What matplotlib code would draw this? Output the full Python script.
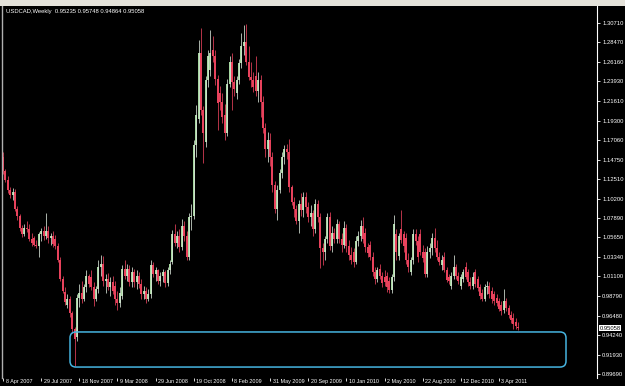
import numpy as np
import matplotlib
matplotlib.use("Agg")
import matplotlib.pyplot as plt
import matplotlib.transforms as mtransforms
from matplotlib.patches import FancyBboxPatch, Rectangle

plt.rcParams["font.family"] = ["Liberation Sans", "DejaVu Sans"]

SYMBOL = "USDCAD,Weekly"

# weekly OHLC, first bar = week of 8 Apr 2007
opens = [
    1.150, 1.134, 1.124, 1.112, 1.106, 1.110, 1.090, 1.081, 1.067, 1.060,
    1.068, 1.066, 1.055, 1.056, 1.048, 1.046, 1.061, 1.064, 1.058, 1.064,
    1.056, 1.058, 1.055, 1.046, 1.030, 1.008, 0.993, 0.978, 0.985, 0.968,
    0.950, 0.940, 0.986, 0.992, 0.985, 0.998, 1.012, 1.010, 0.998, 0.985,
    0.996, 1.022, 1.025, 1.005, 1.008, 0.998, 1.004, 1.000, 0.985, 0.980,
    0.988, 1.020, 1.012, 1.020, 1.004, 1.016, 1.004, 1.012, 1.002, 0.990,
    0.994, 0.984, 0.990, 1.024, 1.014, 1.018, 1.006, 1.012, 1.016, 1.003,
    1.018, 1.028, 1.060, 1.050, 1.058, 1.045, 1.070, 1.058, 1.034, 1.080,
    1.082, 1.165, 1.195, 1.272, 1.205, 1.168, 1.240, 1.252, 1.275, 1.268,
    1.242, 1.225, 1.215, 1.200, 1.178, 1.236, 1.262, 1.238, 1.225, 1.240,
    1.260, 1.280, 1.285, 1.262, 1.244, 1.240, 1.245, 1.228, 1.240, 1.215,
    1.184, 1.160, 1.170, 1.150, 1.118, 1.090, 1.112, 1.132, 1.150, 1.160,
    1.156, 1.115, 1.098, 1.090, 1.076, 1.095, 1.088, 1.104, 1.092, 1.080,
    1.085, 1.066, 1.095, 1.080, 1.044, 1.040, 1.055, 1.080, 1.046, 1.062,
    1.055, 1.072, 1.055, 1.048, 1.068, 1.046, 1.036, 1.040, 1.028, 1.052,
    1.058, 1.070, 1.062, 1.045, 1.048, 1.034, 1.016, 1.008, 1.020, 1.012,
    1.010, 1.012, 1.006, 0.995, 1.010, 1.060, 1.035, 1.066, 1.060, 1.056,
    1.030, 1.016, 1.030, 1.060, 1.052, 1.060, 1.040, 1.040, 1.014, 1.040,
    1.044, 1.056, 1.044, 1.034, 1.024, 1.034, 1.019, 1.010, 1.000, 1.012,
    1.022, 1.012, 1.000, 1.008, 1.022, 1.016, 1.004, 1.000, 1.016, 1.008,
    0.998, 0.992, 0.985, 0.998, 1.000, 0.994, 0.990, 0.986, 0.982, 0.978,
    0.972, 0.982, 0.974, 0.966, 0.962, 0.958, 0.95235,
]
highs = [
    1.156, 1.137, 1.128, 1.116, 1.114, 1.113, 1.093, 1.084, 1.071, 1.072,
    1.076, 1.072, 1.062, 1.058, 1.053, 1.063, 1.068, 1.070, 1.085, 1.070,
    1.062, 1.064, 1.059, 1.050, 1.034, 1.012, 0.998, 0.990, 0.988, 0.971,
    0.952, 0.990, 1.002, 1.005, 1.002, 1.018, 1.014, 1.018, 1.004, 1.000,
    1.030, 1.036, 1.035, 1.014, 1.015, 1.010, 1.012, 1.005, 0.994, 0.999,
    1.024, 1.030, 1.026, 1.024, 1.022, 1.020, 1.018, 1.016, 1.008, 1.000,
    0.998, 0.996, 1.030, 1.028, 1.022, 1.020, 1.016, 1.020, 1.018, 1.022,
    1.030, 1.065, 1.072, 1.064, 1.066, 1.078, 1.076, 1.064, 1.085, 1.095,
    1.170, 1.211, 1.287, 1.301, 1.210, 1.245, 1.275, 1.299, 1.292, 1.275,
    1.246, 1.234, 1.225, 1.212, 1.242, 1.268, 1.272, 1.245, 1.245, 1.265,
    1.296, 1.305, 1.306, 1.280, 1.262, 1.250, 1.268, 1.250, 1.246, 1.222,
    1.190, 1.180, 1.178, 1.156, 1.122, 1.118, 1.136, 1.156, 1.164, 1.166,
    1.172, 1.118, 1.104, 1.094, 1.100, 1.108, 1.110, 1.110, 1.098, 1.094,
    1.088, 1.102, 1.100, 1.085, 1.050, 1.058, 1.085, 1.086, 1.070, 1.068,
    1.078, 1.076, 1.062, 1.076, 1.072, 1.054, 1.045, 1.044, 1.058, 1.064,
    1.077, 1.080, 1.068, 1.050, 1.052, 1.040, 1.022, 1.022, 1.026, 1.016,
    1.018, 1.016, 1.010, 1.014, 1.083, 1.066, 1.062, 1.088, 1.064, 1.062,
    1.038, 1.034, 1.066, 1.066, 1.058, 1.066, 1.048, 1.044, 1.046, 1.050,
    1.062, 1.068, 1.054, 1.040, 1.036, 1.040, 1.022, 1.014, 1.016, 1.036,
    1.026, 1.016, 1.014, 1.020, 1.028, 1.020, 1.010, 1.016, 1.020, 1.012,
    1.002, 0.996, 1.002, 1.006, 1.004, 0.998, 0.994, 0.990, 0.986, 0.982,
    0.996, 0.986, 0.978, 0.970, 0.968, 0.962, 0.95748,
]
lows = [
    1.131, 1.121, 1.109, 1.103, 1.100, 1.087, 1.077, 1.064, 1.057, 1.058,
    1.063, 1.052, 1.046, 1.046, 1.044, 1.034, 1.052, 1.054, 1.055, 1.050,
    1.048, 1.045, 1.043, 1.028, 1.005, 0.991, 0.978, 0.974, 0.964, 0.945,
    0.906, 0.935, 0.975, 0.980, 0.982, 0.993, 0.998, 0.995, 0.976, 0.982,
    0.992, 1.012, 1.000, 0.992, 0.995, 0.988, 0.990, 0.978, 0.972, 0.975,
    0.985, 1.008, 1.005, 1.000, 0.999, 0.998, 0.996, 0.997, 0.985, 0.984,
    0.980, 0.982, 0.986, 1.010, 1.005, 1.002, 1.000, 1.004, 0.998, 1.000,
    1.014, 1.025, 1.046, 1.044, 1.040, 1.042, 1.052, 1.030, 1.030, 1.065,
    1.078, 1.150, 1.190, 1.200, 1.143, 1.162, 1.232, 1.245, 1.262, 1.235,
    1.182, 1.205, 1.190, 1.170, 1.175, 1.232, 1.205, 1.222, 1.218, 1.236,
    1.255, 1.270, 1.258, 1.240, 1.232, 1.226, 1.222, 1.215, 1.197, 1.178,
    1.150, 1.145, 1.140, 1.110, 1.085, 1.077, 1.108, 1.126, 1.142, 1.148,
    1.110, 1.094, 1.080, 1.072, 1.062, 1.082, 1.080, 1.085, 1.075, 1.070,
    1.058, 1.062, 1.075, 1.021, 1.024, 1.030, 1.050, 1.042, 1.040, 1.050,
    1.050, 1.050, 1.040, 1.044, 1.040, 1.030, 1.025, 1.022, 1.026, 1.046,
    1.052, 1.050, 1.040, 1.034, 1.030, 1.012, 1.002, 1.004, 1.008, 0.998,
    1.000, 0.993, 0.992, 0.992, 1.006, 1.030, 1.030, 1.050, 1.040, 1.026,
    1.016, 1.013, 1.026, 1.048, 1.028, 1.036, 1.028, 1.010, 1.010, 1.032,
    1.036, 1.040, 1.030, 1.024, 1.018, 1.016, 1.004, 1.002, 0.996, 1.008,
    1.008, 1.002, 0.996, 1.004, 1.008, 1.000, 0.996, 0.996, 0.998, 0.994,
    0.984, 0.982, 0.982, 0.990, 0.986, 0.980, 0.978, 0.976, 0.970, 0.966,
    0.968, 0.970, 0.962, 0.957, 0.950, 0.950, 0.94864,
]
closes = [
    1.134, 1.124, 1.112, 1.106, 1.110, 1.090, 1.081, 1.067, 1.060, 1.068,
    1.066, 1.055, 1.050, 1.048, 1.046, 1.061, 1.064, 1.058, 1.064, 1.056,
    1.058, 1.049, 1.046, 1.030, 1.008, 0.994, 0.981, 0.985, 0.968, 0.950,
    0.938, 0.986, 0.992, 0.985, 0.998, 1.012, 1.002, 0.998, 0.985, 0.996,
    1.022, 1.025, 1.005, 1.008, 0.998, 1.004, 0.994, 0.985, 0.980, 0.992,
    1.020, 1.012, 1.020, 1.004, 1.016, 1.004, 1.012, 1.002, 0.990, 0.994,
    0.984, 0.990, 1.024, 1.014, 1.018, 1.006, 1.012, 1.016, 1.003, 1.018,
    1.026, 1.060, 1.050, 1.058, 1.045, 1.070, 1.058, 1.034, 1.080, 1.082,
    1.165, 1.200, 1.272, 1.205, 1.178, 1.240, 1.268, 1.272, 1.268, 1.242,
    1.214, 1.215, 1.197, 1.178, 1.236, 1.262, 1.238, 1.230, 1.240, 1.260,
    1.280, 1.285, 1.262, 1.244, 1.240, 1.232, 1.228, 1.240, 1.215, 1.184,
    1.160, 1.170, 1.150, 1.118, 1.090, 1.112, 1.132, 1.150, 1.160, 1.156,
    1.115, 1.098, 1.090, 1.076, 1.095, 1.088, 1.104, 1.092, 1.080, 1.085,
    1.066, 1.095, 1.080, 1.044, 1.040, 1.055, 1.080, 1.046, 1.062, 1.055,
    1.072, 1.055, 1.048, 1.068, 1.046, 1.036, 1.030, 1.028, 1.052, 1.058,
    1.070, 1.055, 1.045, 1.038, 1.034, 1.016, 1.008, 1.018, 1.012, 1.003,
    1.004, 0.998, 0.995, 1.010, 1.072, 1.040, 1.058, 1.054, 1.046, 1.030,
    1.022, 1.030, 1.060, 1.052, 1.034, 1.040, 1.032, 1.014, 1.040, 1.044,
    1.056, 1.044, 1.034, 1.028, 1.030, 1.019, 1.007, 1.006, 1.012, 1.022,
    1.012, 1.006, 1.010, 1.016, 1.010, 1.004, 1.000, 1.010, 1.002, 0.997,
    0.988, 0.985, 0.998, 1.000, 0.990, 0.984, 0.982, 0.980, 0.973, 0.970,
    0.982, 0.974, 0.966, 0.960, 0.955, 0.953, 0.95058,
]

date_labels = [
    "8 Apr 2007", "29 Jul 2007", "18 Nov 2007", "9 Mar 2008", "29 Jun 2008",
    "19 Oct 2008", "8 Feb 2009", "31 May 2009", "20 Sep 2009", "10 Jan 2010",
    "2 May 2010", "22 Aug 2010", "12 Dec 2010", "3 Apr 2011",
]
price_ticks = [
    1.30710, 1.28470, 1.26160, 1.23930, 1.21610, 1.19300, 1.17060, 1.14750,
    1.12510, 1.10200, 1.07890, 1.05650, 1.03340, 1.01100, 0.98790, 0.96480,
    0.94240, 0.91930, 0.89690,
]

BG = "black"
UP_BODY = "#a6d6a0"
UP_WICK = "#d8e4d8"
DOWN = "#e8425c"
BOX_BLUE = "#46b4e0"
TEXT = "white"
FS = 4.2
LABEL_STEP = 16  # weeks between date labels


def main():
    o = np.array(opens)
    h = np.array(highs)
    lo = np.array(lows)
    c = np.array(closes)
    idx = np.arange(len(c))
    up = c >= o

    fig = plt.figure(figsize=(6.25, 3.86), dpi=100, facecolor=BG)
    ax = fig.add_axes([2 / 625, 8 / 386, 595 / 625, 372 / 386])
    ax.set_facecolor(BG)

    # toolbar strip at the very top
    fig.patches.append(Rectangle((0, 380 / 386), 1, 6 / 386, transform=fig.transFigure,
                                 facecolor="#e4e2da", edgecolor="none"))

    ax.vlines(idx[up], lo[up], h[up], color=UP_WICK, linewidth=0.55)
    ax.vlines(idx[~up], lo[~up], h[~up], color=DOWN, linewidth=0.55)
    body_lo = np.minimum(o, c)
    body_h = np.maximum(np.abs(c - o), 0.0012)
    ax.bar(idx[up], body_h[up], bottom=body_lo[up], width=0.85, color=UP_BODY, linewidth=0)
    ax.bar(idx[~up], body_h[~up], bottom=body_lo[~up], width=0.85, color=DOWN, linewidth=0)

    ax.set_xlim(-0.42, 249.1)
    ax.set_ylim(0.8922, 1.3270)

    # highlighted support zone
    box = FancyBboxPatch((28.1, 0.905), 208.0, 0.041,
                         boxstyle="round,pad=0,rounding_size=2.5",
                         mutation_aspect=0.00278, facecolor="none",
                         edgecolor=BOX_BLUE, linewidth=1.1, zorder=5)
    ax.add_patch(box)

    for side in ("top", "bottom"):
        ax.spines[side].set_visible(False)
    ax.spines["left"].set_color("#b0b0b0")
    ax.spines["left"].set_linewidth(1.0)
    ax.spines["right"].set_color(TEXT)
    ax.spines["right"].set_linewidth(0.8)

    ax.yaxis.tick_right()
    ax.set_yticks(price_ticks, [f"{v:.5f}" for v in price_ticks])
    ax.tick_params(axis="y", colors=TEXT, length=2.5, width=0.6, pad=1.2, labelsize=FS)

    xt = np.arange(len(date_labels)) * LABEL_STEP
    ax.set_xticks(xt, date_labels)
    ax.tick_params(axis="x", colors=TEXT, length=2.5, width=0.6, pad=-2.0, labelsize=3.9)
    shift = mtransforms.ScaledTranslation(2.5 / 100, 0, fig.dpi_scale_trans)
    for lab in ax.get_xticklabels():
        lab.set_horizontalalignment("left")
        lab.set_transform(lab.get_transform() + shift)

    # current price marker
    trans = mtransforms.blended_transform_factory(ax.transAxes, ax.transData)
    ax.text(1.004, c[-1], f"{c[-1]:.5f}", transform=trans, ha="left", va="center",
            fontsize=FS, color="black", zorder=10,
            bbox=dict(facecolor="white", edgecolor="none", pad=0.5))

    header = f"{SYMBOL}  {o[-1]:.5f} {h[-1]:.5f} {lo[-1]:.5f} {c[-1]:.5f}"
    fig.text(6 / 625, 1 - 12 / 386, header, color=TEXT, fontsize=FS, va="center")

    fig.savefig("out.png", dpi=100, facecolor=BG)


if __name__ == "__main__":
    main()
